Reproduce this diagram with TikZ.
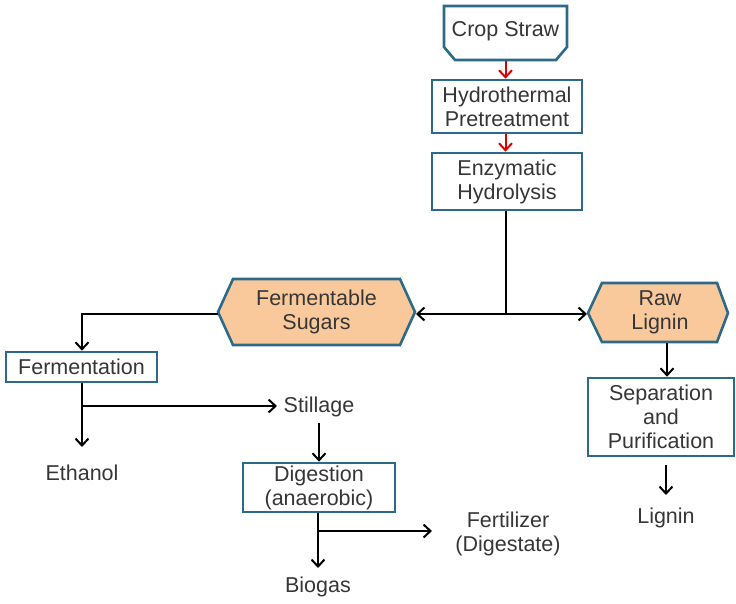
\documentclass[tikz,border=0pt]{standalone}
\usepackage{fontspec}
\setmainfont{Liberation Sans}
\usetikzlibrary{arrows.meta,calc}
\definecolor{boxedge}{HTML}{2C6A88}
\definecolor{peach}{HTML}{F9C99C}
\definecolor{txt}{HTML}{363636}
\tikzset{
  lbl/.style={text=txt,font=\fontsize{21.5}{24}\selectfont,align=center,inner sep=0pt},
  procbox/.style={lbl,draw=boxedge,line width=2.6pt,fill=white},
  flow/.style={draw=black,line width=2pt,-{Straight Barb[length=7pt,width=13pt,line width=2pt]}},
  redflow/.style={draw=red!85!black,line width=2pt,-{Straight Barb[length=7pt,width=13pt,line width=2pt]}},
  plainline/.style={draw=black,line width=2pt},
  hexfill/.style={fill=peach,draw=boxedge,line width=2.6pt,line join=miter},
}
\begin{document}
\begin{tikzpicture}[x=1pt,y=-1pt]
\useasboundingbox (0,0) rectangle (736,603);

% feedstock box with chamfered lower corners
\draw[draw=boxedge,line width=2.6pt,fill=white]
  (444,6) -- (567,6) -- (567,47) -- (556,60) -- (455,60) -- (444,47) -- cycle;
\node[lbl] (crop) at (505.5,31) {Crop Straw};

\node[procbox,minimum width=150pt,minimum height=53pt] (hydro) at (507,106.5) {Hydrothermal\\Pretreatment};
\node[procbox,minimum width=150pt,minimum height=57pt] (enz) at (507,181.5) {Enzymatic\\Hydrolysis};

% hexagonal product nodes
\draw[hexfill] (218,312) -- (233,279) -- (400,279) -- (415,312) -- (400,345) -- (233,345) -- cycle;
\node[lbl] (sugar) at (316.5,312) {Fermentable\\Sugars};
\coordinate (sugarL) at (218,314);
\coordinate (sugarR) at (416,314);

\draw[hexfill] (588,313) -- (602,283) -- (717,283) -- (728,313) -- (717,342) -- (602,342) -- cycle;
\node[lbl] (rawlig) at (660,312.5) {Raw\\Lignin};
\coordinate (rawL) at (587,314);
\coordinate (rawB) at (667,343);

\node[procbox,minimum width=151pt,minimum height=30pt] (ferm) at (81.5,367) {Fermentation};
\node[lbl] (eth) at (82,473) {Ethanol};
\node[lbl] (still) at (319,407) {Stillage};
\node[procbox,minimum width=152pt,minimum height=49pt] (dig) at (319,487.5) {Digestion\\(anaerobic)};
\node[lbl] (fert) at (508,534) {Fertilizer\\(Digestate)};
\node[lbl] (biogas) at (318,587) {Biogas};
\node[procbox,minimum width=146pt,minimum height=78pt] (sep) at (661,417) {Separation\\and\\Purification};
\node[lbl] (lig) at (666,518) {Lignin};

% red process arrows
\draw[redflow] (crop.center |- 0,61) -- (hydro.north -| crop.center);
\draw[redflow] (hydro.south -| crop.center) -- (enz.north -| crop.center);

% split after hydrolysis
\coordinate (split) at (506,314);
\draw[plainline] (enz.south -| split) -- (split);
\draw[flow] (split) -- (sugarR);
\draw[flow] (split) -- (rawL);

% sugar route
\coordinate (fk) at (82,314);
\draw[flow,line join=miter] (sugarL) -- (fk) -- (ferm.north -| fk);
\coordinate (fb) at (82,406);
\draw[flow] (ferm.south -| fk) -- (82,447);
\draw[flow] (fb) -- (277,406);
\draw[flow] (319,423) -- (dig.north -| 319,0);
\coordinate (db) at (318,531);
\draw[flow] (dig.south -| db) -- (318,568);
\draw[flow] (db) -- (432,531);

% lignin route
\draw[flow] (rawB) -- (sep.north -| rawB);
\draw[flow] (666,465) -- (666,495);
\end{tikzpicture}
\end{document}
